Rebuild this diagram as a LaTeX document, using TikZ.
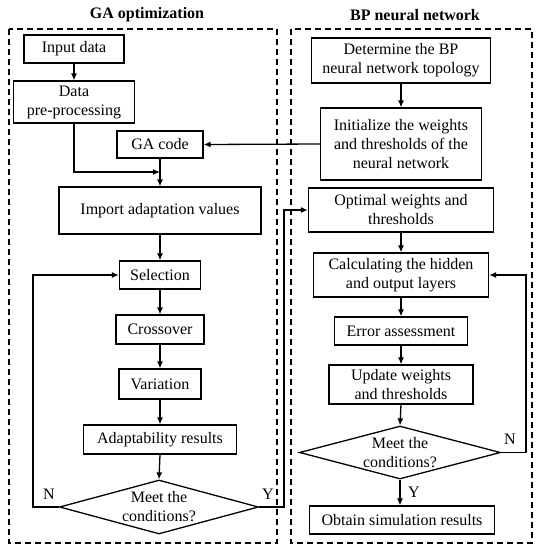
\documentclass[tikz,border=0pt]{standalone}
\usepackage{fontspec}
\setmainfont{Liberation Serif}
\usetikzlibrary{shapes.geometric,arrows.meta}
\begin{document}
\begin{tikzpicture}[x=1pt,y=-1pt,
  font=\fontsize{16}{19}\selectfont,
  box/.style={draw,line width=1.3pt,inner sep=0pt,align=center},
  diam/.style={draw,line width=1.3pt,diamond,inner sep=0pt},
  frame/.style={draw,line width=1.4pt,dash pattern=on 6pt off 4pt},
  arr/.style={line width=1.3pt,-{Latex[length=7pt,width=6pt]}},
  ttl/.style={font=\fontsize{16}{19}\selectfont\bfseries}]
\useasboundingbox (0,0) rectangle (540,550);
\fill[white] (0,0) rectangle (540,550);
% frames
\draw[frame] (9,29) rectangle (277,543);
\draw[frame] (291,29) rectangle (532,543);
\node[ttl] (t1) at (147,15) {GA optimization};
\node[ttl] (t2) at (415,15) {BP neural network};
% left column
\node[box,minimum width=100pt,minimum height=28pt] (in) at (74,49) {Input data};
\node[box,minimum width=121pt,minimum height=42pt] (pre) at (74,102) {Data\\pre-processing};
\node[box,minimum width=86pt,minimum height=27pt] (ga) at (160,144.5) {GA code};
\node[box,minimum width=202pt,minimum height=47pt] (imp) at (160,210.5) {Import adaptation values};
\node[box,minimum width=81pt,minimum height=28pt] (sel) at (160,275) {Selection};
\node[box,minimum width=88pt,minimum height=29pt] (cro) at (160,329.5) {Crossover};
\node[box,minimum width=82pt,minimum height=30pt] (var) at (160,384) {Variation};
\node[box,minimum width=153pt,minimum height=29pt] (ada) at (160,439.5) {Adaptability results};
\node[diam,minimum width=199pt,minimum height=54pt] (d1) at (159,507) {};
\node[align=center,inner sep=0pt] (d1t) at (d1.center) {Meet the\\conditions?};
% right column
\node[box,minimum width=179pt,minimum height=45pt] (det) at (401,60.5) {Determine the BP\\neural network topology};
\node[box,minimum width=161pt,minimum height=72pt] (ini) at (401,144) {Initialize the weights\\and thresholds of the\\neural network};
\node[box,minimum width=185pt,minimum height=44pt] (opt) at (401,210) {Optimal weights and\\thresholds};
\node[box,minimum width=175pt,minimum height=44pt] (cal) at (401,275) {Calculating the hidden\\and output layers};
\node[box,minimum width=133pt,minimum height=28pt] (err) at (401,331) {Error assessment};
\node[box,minimum width=144pt,minimum height=39pt] (upd) at (401,384.5) {Update weights\\and thresholds};
\node[diam,minimum width=201pt,minimum height=53pt] (d2) at (400,452.5) {};
\node[align=center,inner sep=0pt] (d2t) at (d2.center) {Meet the\\conditions?};
\node[box,minimum width=185pt,minimum height=28pt] (obt) at (402,520) {Obtain simulation results};
% helper coordinates
\coordinate (j1) at (160,172);
\coordinate (cN1) at (33,507);
\coordinate (cY1) at (284,507);
\coordinate (cN2) at (526,452.5);
% left connectors
\draw[arr] (in.south) -- (pre.north);
\draw[arr] (pre.south) |- (j1);
\draw[arr] (ga.south) -- (imp.north);
\draw[arr] (imp.south) -- (sel.north);
\draw[arr] (sel.south) -- (cro.north);
\draw[arr] (cro.south) -- (var.north);
\draw[arr] (var.south) -- (ada.north);
\draw[arr] (ada.south) -- (d1.north);
\draw[arr] (d1.west) -- (cN1) |- (sel.west);
\draw[arr] (d1.east) -- (cY1) |- (opt.west);
\node (lN1) at (49,494) {N};
\node (lY1) at (268,494) {Y};
% right connectors
\draw[arr] (det.south) -- (ini.north);
\draw[arr] (ini.west) -- (ga.east);
\draw[arr] (opt.south) -- (cal.north);
\draw[arr] (cal.south) -- (err.north);
\draw[arr] (err.south) -- (upd.north);
\draw[arr] (upd.south) -- (d2.north);
\draw[arr] (d2.south) -- (d2.south |- obt.north);
\draw[arr] (d2.east) -- (cN2) |- (cal.east);
\node (lN2) at (510,439) {N};
\node (lY2) at (414,492) {Y};
\end{tikzpicture}
\end{document}
